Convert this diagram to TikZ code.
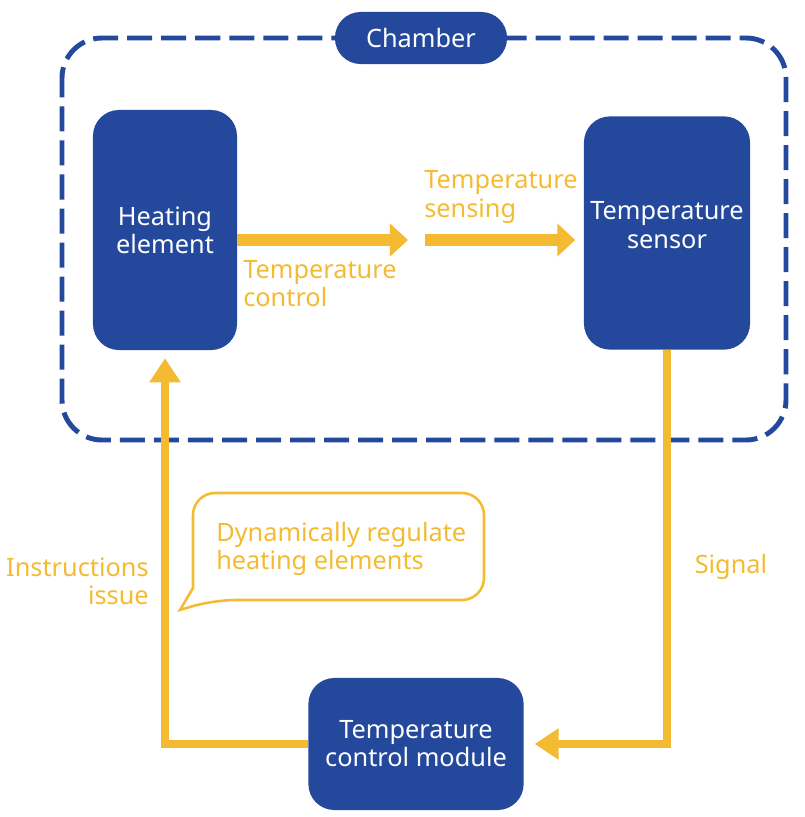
\documentclass[tikz,border=0pt]{standalone}
\usepackage{fontspec}
\setmainfont{Noto Sans}
\usepackage{tikz}
\usetikzlibrary{arrows.meta, positioning}
\definecolor{chblue}{HTML}{23489C}
\definecolor{flowyel}{HTML}{F4BA32}
\tikzstyle{box} = [rectangle, rounded corners=0.65cm, fill=chblue, text=white, align=center, inner sep=0pt, font=\fontsize{18}{20}\selectfont]
\tikzstyle{pill} = [box, rounded corners=0.64cm]
\tikzstyle{lbl} = [text=flowyel, inner sep=0pt, font=\fontsize{18}{20}\selectfont]
\tikzstyle{bigarrow} = [draw=flowyel, line width=8.5pt, -{Triangle[length=0.45cm, width=0.8cm]}]
\tikzstyle{flow} = [draw=flowyel, line width=5pt, -{Triangle[length=0.6cm, width=0.75cm]}]
\tikzstyle{bubble} = [draw=flowyel, line width=1.8pt]

\begin{document}
\begin{tikzpicture}[x=0.025cm, y=-0.025cm]
			\useasboundingbox (0,0) rectangle (804,817);
			\draw [chblue, line width=3.5pt, rounded corners=1cm, dash pattern=on 17.8pt off 6.4pt, dash phase=4pt] (62,38) rectangle (786,440);
			\node [pill, minimum width=4.3cm, minimum height=1.3cm] (chamber) at (421,38) {Chamber};

			\node [box, minimum width=3.6cm, minimum height=6cm] (heating) at (165,230) {Heating\\element};
			\node [box, minimum width=4.15cm, minimum height=5.83cm, text depth=0.4cm] (sensor) at (667,233) {Temperature\\sensor};
			\node [box, minimum width=5.38cm, minimum height=3.3cm] (module) at (416,744) {Temperature\\control module};

			\coordinate (ctrlend) at (408,240);
			\coordinate (sensestart) at (425,240);
			\path [bigarrow] (heating.east |- ctrlend) -- (ctrlend);
			\path [bigarrow] (sensestart) -- ([xshift=-6] sensor.west |- sensestart);
			\path [flow, shorten >=0.27cm] (sensor.south) |- (module.east);
			\path [flow, shorten >=0.2cm] (module.west) -| (heating.south);

			\node [lbl, anchor=west, align=left] (ctrllbl) at (243,284) {Temperature\\control};
			\node [lbl, anchor=west, align=left] (senselbl) at (424,197) {Temperature\\sensing};
			\node [lbl, anchor=east, align=right] (instrlbl) at (149,581) {Instructions\\issue};
			\node [lbl] (signallbl) at (731,567) {Signal};

			\draw [bubble] (193,588) [rounded corners=0.55cm] -- (193,493) -- (484,493) -- (484,600) -- (213,600) [sharp corners] -- (180,610) -- cycle;
			\node [lbl, anchor=west, align=left] (bubbletext) at (216,549) {Dynamically regulate\\heating elements};
		\end{tikzpicture}
\end{document}
